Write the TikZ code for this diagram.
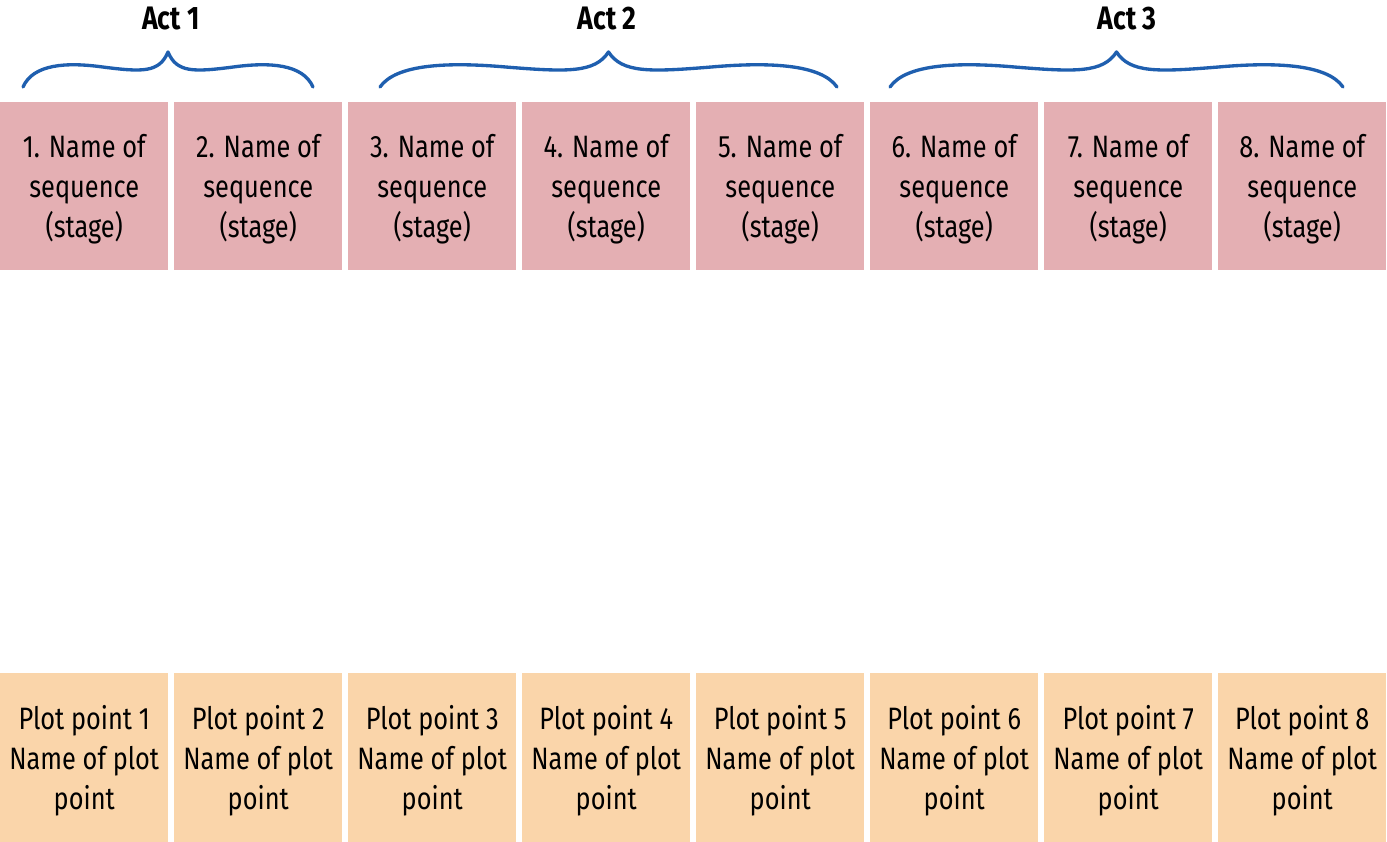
\documentclass[tikz,border=0pt]{standalone}
\usepackage{fontspec}
\setmainfont{Fira Sans}[FakeStretch=0.82]
\usetikzlibrary{positioning}
\definecolor{seqpink}{HTML}{E4AFB3}
\definecolor{plotpeach}{HTML}{FAD5AA}
\definecolor{braceblue}{HTML}{1F5FAF}
\begin{document}
\begin{tikzpicture}[x=0.02cm,y=-0.02cm,join=round,cap=round,
		box/.style={minimum width=3.37cm,minimum height=3.37cm,inner sep=0pt,text depth=0pt,align=center,font=\fontsize{17.6}{22.7}\selectfont},
		seqbox/.style={box,fill=seqpink},
		plotbox/.style={box,fill=plotpeach},
		actlabel/.style={font=\fontsize{18.5}{20}\selectfont\bfseries},
		curly/.style={draw=braceblue,line width=1.9pt}]
		\useasboundingbox (0,0) rectangle (1387,842);
		\foreach \i in {1,...,8} {
			\pgfmathsetmacro\cx{84.25+174*(\i-1)}
			\node[seqbox] (seq\i) at (\cx,186) {\i. Name of\\sequence\\(stage)};
			\node[plotbox] (pp\i) at (\cx,757.5) {Plot point \i\\Name of plot\\point};
		}
		\foreach \l/\r/\n/\t in {23/313/1/171,380/837/2/607,890/1343/3/1127} {
			\pgfmathsetmacro\m{(\l+\r)/2}
			\pgfmathsetmacro\w{(\r-\l)/2}
			\path (\l,87) coordinate (L\n) (\m,52) coordinate (T\n) (\r,87) coordinate (R\n);
			\draw[curly] (L\n) .. controls ({\l+0.07*\w},64) and ({\l+0.3*\w},62) .. ({\l+0.55*\w},67)
				.. controls ({\l+0.82*\w},72) and ({\m-0.06*\w},73) .. (T\n)
				.. controls ({\m+0.06*\w},73) and ({\r-0.82*\w},72) .. ({\r-0.55*\w},67)
				.. controls ({\r-0.3*\w},62) and ({\r-0.07*\w},64) .. (R\n);
			\node[actlabel] (act\n) at (\t,19) {Act \n};
		}
	\end{tikzpicture}
\end{document}
